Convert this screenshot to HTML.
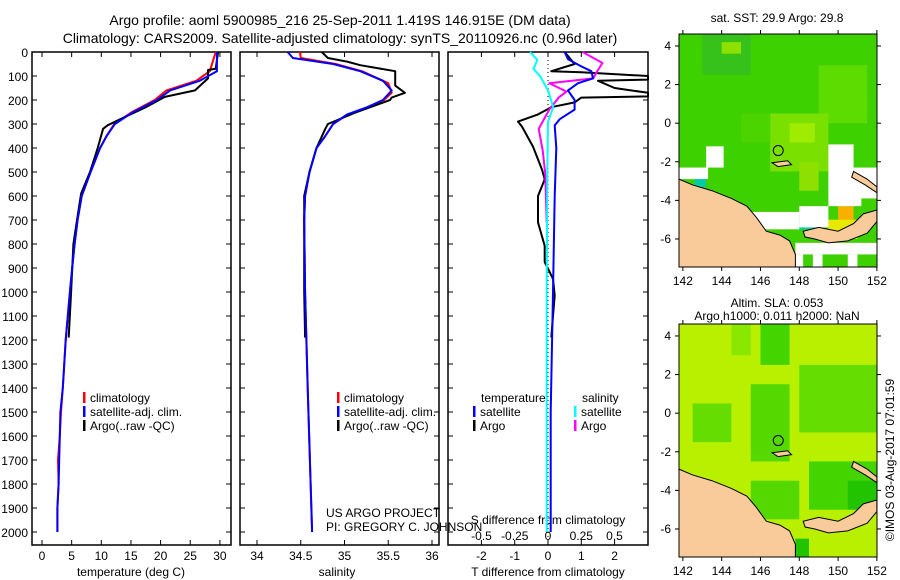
<!DOCTYPE html>
<html><head><meta charset="utf-8"><style>
body{margin:0;background:#fff;}
svg{display:block;font-family:"Liberation Sans",sans-serif;}
</style></head><body>
<svg id="fig" width="900" height="580" viewBox="0 0 900 580" xmlns="http://www.w3.org/2000/svg"></svg>
<script>
// ---- data ----
const depthTicks=[0,100,200,300,400,500,600,700,800,900,1000,1100,1200,1300,1400,1500,1600,1700,1800,1900,2000];
const tTicks=[0,5,10,15,20,25,30];
const sTicks=[34,34.5,35,35.5,36];
const dtTicks=[-2,-1,0,1,2];
const dsTicks=[-0.5,-0.25,0,0.25,0.5];
const dsTickLabels=["-0.5","-0.25","0","0.25","0.5"];
const climTDepth=[0,80,120,160,200,250,300,350,400,500,600,700,800,900,1000,1200,1400,1500,1600,1700,1800,1900,2000];
const climTVal=[29.3,28.3,26,21,19,15.2,12.2,10.9,9.8,8.2,6.7,6.0,5.5,5.1,4.7,4.0,3.5,3.2,3.0,2.7,2.8,2.6,2.6];
const satTVal=[29.5,29.5,26.6,21.6,19.4,15.4,12.3,10.9,9.8,8.2,6.7,6.0,5.5,5.1,4.7,4.0,3.5,3.1,3.0,2.9,2.8,2.6,2.6];
const argoTDepth=[0,70,75,110,160,187,230,280,305,320,400,500,590,700,800,1000,1190];
const argoTVal=[29.7,29.3,28,28,25.8,20.7,17.5,13.2,11.1,10.3,9.4,8.1,6.6,5.9,5.3,4.9,4.5];
const climSDepth=[0,25,50,80,130,170,200,230,260,300,350,400,500,600,700,1000,1400,2000];
const climSVal=[34.49,34.5,34.9,35.2,35.5,35.54,35.45,35.27,35.04,34.87,34.78,34.68,34.6,34.55,34.54,34.55,34.58,34.63];
const satSDepth=[0,25,50,80,120,160,200,230,260,300,350,400,500,600,700,1000,1400,2000];
const satSVal=[34.35,34.41,34.87,35.18,35.44,35.54,35.44,35.26,35.03,34.87,34.78,34.68,34.6,34.55,34.54,34.55,34.58,34.63];
const argoSDepth=[0,25,40,55,80,140,170,190,200,250,300,320,400,500,600,1000,1190];
const argoSVal=[34.74,34.81,35.03,35.18,35.58,35.58,35.69,35.54,35.52,35.14,34.81,34.78,34.68,34.6,34.54,34.54,34.55];
const dTSatDepth=[0,30,60,80,110,130,160,200,240,280,306,400,600,1000,1500,2000];
const dTSatVal=[0.5,0.6,1.0,1.3,1.35,0.9,0.6,0.8,0.8,0.35,0.2,0.25,0.2,0.15,0.08,0.08];
const dTArgoDepth=[0,50,80,84,100,115,120,150,170,185,190,210,230,260,290,311,394,490,531,600,710,808,875,945,1015,1100,1190];
const dTArgoVal=[0.5,0.8,0.1,1.0,3.5,3.5,1.5,2.0,3.5,3.5,1.0,0.8,0.1,-0.3,-0.9,-0.78,-0.45,-0.18,-0.1,-0.3,-0.3,-0.1,-0.1,0.15,0.2,0.15,0.1];
const dSSatDepth=[0,33,70,100,160,230,290,500,1000,2000];
const dSSatVal=[-0.135,-0.08,-0.11,-0.06,0,0.04,0,-0.005,-0.01,-0.01];
const dSArgoDepth=[0,46,80,110,130,165,190,240,320,410,510,710];
const dSArgoVal=[0.26,0.41,0.37,0.34,0.01,0.14,0.08,0.01,-0.07,-0.04,-0.02,-0.01];

// ---- scales ----
const yTop=52, yBot=545;
const yD=d=>yTop+d*0.24;
const P1={l:32,r:231}, P2={l:240,r:439}, P3={l:448,r:648};
const xT=t=>42+t*5.93;
const xS=s=>257+(s-34)*87.5;
const xDT=v=>548+v*33.3;
const xDS=v=>548+v*133;

const svg=document.getElementById('fig');
const NS='http://www.w3.org/2000/svg';
function mk(tag,attrs,parent){const e=document.createElementNS(NS,tag);for(const k in attrs)e.setAttribute(k,attrs[k]);(parent||svg).appendChild(e);return e;}
function txt(x,y,s,size,anchor,parent){const t=mk('text',{x:x,y:y,'font-size':size,'text-anchor':anchor||'start',fill:'#000'},parent);t.textContent=s;return t;}

let t1=txt(340,25,'Argo profile: aoml 5900985_216 25-Sep-2011 1.419S 146.915E (DM data)',14,'middle');


let t2=txt(340,43,'Climatology: CARS2009. Satellite-adjusted climatology: synTS_20110926.nc (0.96d later)',14,'middle');



function panel(P,name){
  const g=mk('g',{});
  
  
  mk('rect',{x:P.l,y:yTop,width:P.r-P.l,height:yBot-yTop,fill:'none',stroke:'#000','stroke-width':1.5},g);
  depthTicks.forEach(d=>{mk('line',{x1:P.l,x2:P.l+5,y1:yD(d),y2:yD(d),stroke:'#000'},g);mk('line',{x1:P.r-5,x2:P.r,y1:yD(d),y2:yD(d),stroke:'#000'},g);});
  return g;
}
function xticks(g,P,vals,fx,labels,ly){
  vals.forEach((v,i)=>{const x=fx(v);mk('line',{x1:x,x2:x,y1:yBot-5,y2:yBot,stroke:'#000'},g);mk('line',{x1:x,x2:x,y1:yTop,y2:yTop+5,stroke:'#000'},g);
    const t=txt(x,ly,labels[i],12,'middle',g);});
}
function line(g,depths,vals,fx,color,w,name,P){
  const pts=depths.map((d,i)=>{let x=fx(vals[i]);if(P){x=Math.max(P.l,Math.min(P.r,x));}return x.toFixed(1)+','+yD(d).toFixed(1);}).join(' ');
  const p=mk('polyline',{points:pts,fill:'none',stroke:color,'stroke-width':w,'stroke-linejoin':'round'},g);
  
  
}
function legend(g,x,y,items){
  items.forEach((it,i)=>{mk('rect',{x:x,y:y+i*14-10,width:2.5,height:11,fill:it[1]},g);
    const t=txt(x+7,y+i*14,it[0],12,'start',g);});
}

depthTicks.forEach(d=>{const t=txt(28,yD(d)+5,String(d),12,'end');});

const g1=panel(P1,'temperature-panel');
xticks(g1,P1,tTicks,xT,tTicks.map(String),560);
let a1=txt(131,576,'temperature (deg C)',12,'middle',g1);
line(g1,climTDepth,climTVal,xT,'#f00',2,'temp-climatology-line');
line(g1,argoTDepth,argoTVal,xT,'#000',2,'temp-argo-line');
line(g1,climTDepth,satTVal,xT,'#00f',2,'temp-satellite-line');
legend(g1,83,402,[['climatology','#f00'],['satellite-adj. clim.','#00f'],['Argo(..raw -QC)','#000']]);

const g2=panel(P2,'salinity-panel');
xticks(g2,P2,sTicks,xS,sTicks.map(String),560);
let a2=txt(337,576,'salinity',12,'middle',g2);
line(g2,climSDepth,climSVal,xS,'#f00',2,'sal-climatology-line');
line(g2,argoSDepth,argoSVal,xS,'#000',2,'sal-argo-line');
line(g2,satSDepth,satSVal,xS,'#00f',2,'sal-satellite-line');
legend(g2,337,402,[['climatology','#f00'],['satellite-adj. clim.','#00f'],['Argo(..raw -QC)','#000']]);
let u1=txt(326,517,'US ARGO PROJECT',12,'start',g2);
let u2=txt(326,531,'PI: GREGORY C. JOHNSON',12,'start',g2);

const g3=panel(P3,'difference-panel');
mk('line',{x1:548,x2:548,y1:yTop,y2:yBot,stroke:'#000','stroke-dasharray':'1,3'},g3);
xticks(g3,P3,dtTicks,xDT,dtTicks.map(String),560);
dsTicks.forEach((v,i)=>{const t=txt(xDS(v),540,dsTickLabels[i],12,'middle',g3);});
let s3=txt(548,524,'S difference from climatology',12,'middle',g3);
let a3=txt(548,576,'T difference from climatology',12,'middle',g3);
line(g3,dTArgoDepth,dTArgoVal,xDT,'#000',2,'t-diff-argo-line',P3);
line(g3,dSArgoDepth,dSArgoVal,xDS,'#f0f',2,'s-diff-argo-line',P3);
line(g3,dTSatDepth,dTSatVal,xDT,'#00f',2,'t-diff-satellite-line',P3);
line(g3,dSSatDepth,dSSatVal,xDS,'#0ff',2,'s-diff-satellite-line',P3);
let lt=txt(481,402,'temperature',12,'start',g3);
let ls=txt(582,402,'salinity',12,'start',g3);
legend(g3,473,416,[['satellite','#00f'],['Argo','#000']]);
legend(g3,574,416,[['satellite','#0ff'],['Argo','#f0f']]);

// ---- maps ----
const lonTicks=[142,144,146,148,150,152];
const latTicks=[4,2,0,-2,-4,-6];
function mapPanel(top,name,base,patches,whites){
  const g=mk('g',{});
  
  
  const L=679,R=877,B=top+233;
  const mx=lon=>L+(lon-141.8)*19.4, my=lat=>top+(4.62-lat)*19.3;
  mk('rect',{x:L,y:top,width:R-L,height:B-top,fill:base},g);
  patches.forEach(p=>mk('rect',{x:mx(p[0]),y:my(p[3]),width:(p[2]-p[0])*19.4,height:(p[3]-p[1])*19.3,fill:p[4]},g));
  whites.forEach(p=>mk('rect',{x:mx(p[0]),y:my(p[3]),width:(p[2]-p[0])*19.4,height:(p[3]-p[1])*19.3,fill:'#fff'},g));
  const land=[[[141.8,-2.9],[142.5,-3.2],[143.5,-3.5],[144.5,-3.9],[145.3,-4.3],[145.8,-4.9],[146.3,-5.6],[147,-5.8],[147.5,-6.1],[147.8,-6.8],[147.8,-7.45],[141.8,-7.45]],
    [[148.2,-5.6],[149,-5.4],[150,-5.6],[150.8,-5.2],[151.3,-4.7],[152,-4.5],[152,-5.1],[151.5,-5.7],[150.5,-6.1],[149.5,-6.2],[148.8,-6.0],[148.3,-5.9]],
    [[150.8,-2.5],[151.5,-2.9],[152,-3.3],[152,-3.6],[151.4,-3.2],[150.7,-2.8]],
    [[146.6,-2.05],[147.4,-1.95],[147.6,-2.15],[146.9,-2.25]]];
  land.forEach(p=>{const e=mk('polygon',{points:p.map(q=>mx(q[0])+','+my(q[1])).join(' '),fill:'#facb9a',stroke:'#000','stroke-width':1},g);});
  const c=mk('circle',{cx:mx(146.915),cy:my(-1.419),r:5,fill:'none',stroke:'#000'},g);
  
  
  mk('rect',{x:L,y:top,width:R-L,height:B-top,fill:'none',stroke:'#000'},g);
  lonTicks.forEach(v=>{mk('line',{x1:mx(v),x2:mx(v),y1:top-4,y2:top,stroke:'#000'},g);mk('line',{x1:mx(v),x2:mx(v),y1:B,y2:B+4,stroke:'#000'},g);
    const t=txt(mx(v),B+18,String(v),12,'middle',g);});
  latTicks.forEach(v=>{mk('line',{x1:L-4,x2:L,y1:my(v),y2:my(v),stroke:'#000'},g);mk('line',{x1:R,x2:R+4,y1:my(v),y2:my(v),stroke:'#000'},g);
    const t=txt(L-8,my(v)+4,String(v),12,'end',g);});
  return g;
}
mapPanel(34,'sst-map','#3fd000',
  [[143,2.5,145.5,4.62,'#36c21a'],[144,3.6,145,4.2,'#8ee000'],[149,0,151.5,3,'#5cdc00'],[146.5,-2.5,149.5,0.5,'#7ae000'],[147.5,-1,148.8,0,'#a0ec00'],[145,-1,146.5,0.5,'#4cd400'],[148,-3.5,149,-2,'#8ee000'],
   [141.8,-2.9,143.3,-2.3,'#fff'],[150,-5.5,150.8,-4.3,'#f8b000'],[149.5,-6,151,-5,'#e8e800'],[142.6,-3.3,143.2,-2.9,'#00ccaa'],[148,-5.5,148.8,-4.9,'#00d0b0']],
  [[143.2,-2.3,144.1,-1.2],[149.5,-4.3,150.8,-1.1],[150.8,-3.9,152,-2.3],[145.3,-5.5,148,-4.6],[148,-5.4,149.5,-4.3],[147.8,-6.8,152,-6.2],[147.8,-7.45,148.2,-6.8],[148.7,-7.45,149.2,-6.8],[150.5,-7.45,151,-6.8],[150.8,-4.3,151.2,-2.8]]);
let mt1=txt(777,22,'sat. SST: 29.9 Argo: 29.8',12,'middle');
mapPanel(324,'sla-map','#b8f000',
  [[142.5,-1.5,144.5,0.5,'#66dd00'],[145.5,-2.5,147.5,1.5,'#55d800'],[146,2.5,147.5,4.62,'#44d400'],[148,-1,152,2.5,'#66dd00'],[148.5,-5,152,-2.5,'#44d400'],[150.5,-5,152,-3.5,'#22c400'],[145.5,-5.5,148,-3.5,'#55d800'],[147.8,-7.45,148.5,-6.5,'#22c400'],[144.5,3,145.5,4.62,'#8ae800']],
  []);
let mt2=txt(777,307,'Altim. SLA: 0.053',12,'middle');
let mt3=txt(777,320,'Argo h1000: 0.011 h2000: NaN',12,'middle');
let cr=txt(0,0,'©IMOS 03-Aug-2017 07:01:59',12,'middle');
cr.setAttribute('transform','translate(894,460) rotate(-90)');


</script>
</body></html>
